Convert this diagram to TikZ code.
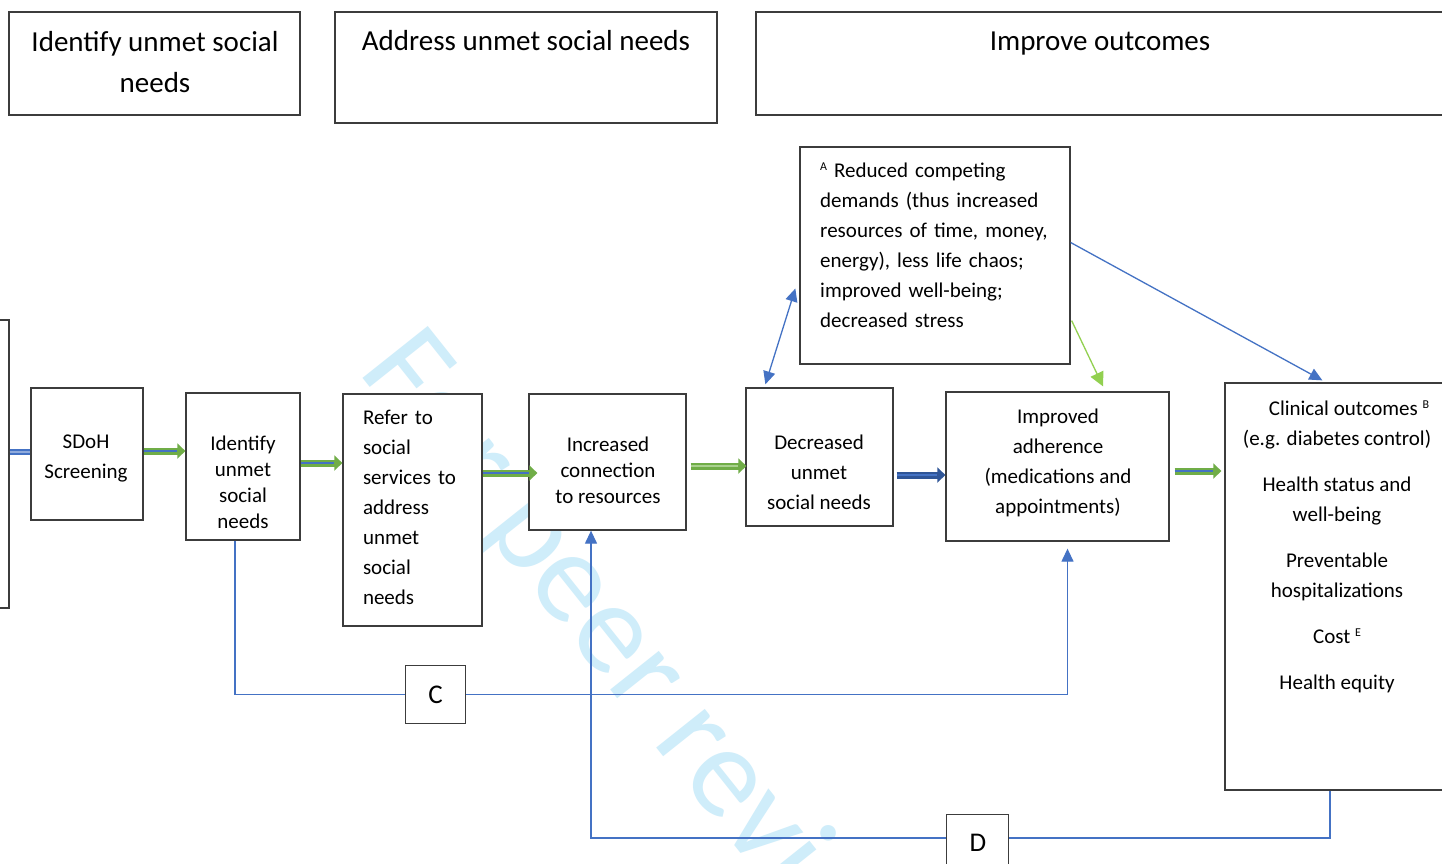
\documentclass[tikz,border=0pt]{standalone}
\usepackage{fontspec}
\setmainfont{Carlito}
\usetikzlibrary{arrows.meta,calc}
\definecolor{bl}{RGB}{68,114,196}
\definecolor{dbl}{RGB}{47,85,151}
\definecolor{lbl}{RGB}{143,170,220}
\definecolor{gr}{RGB}{112,173,71}
\definecolor{lgr}{RGB}{146,208,80}
\definecolor{pgr}{RGB}{169,209,142}
\definecolor{wm}{RGB}{207,237,250}
\definecolor{bx}{RGB}{60,60,60}
\newcommand\blkarrow[4]{%
  \draw[draw=#1,line width=7pt,-{Triangle[length=8pt,width=15pt]}] #3 -- #4;
  \draw[draw=#2,line width=2pt,shorten >=8pt] #3 -- #4;}
\begin{document}
\begin{tikzpicture}[x=1pt,y=-1pt,
  box/.style={draw=bx, line width=1.3pt, fill=white, inner sep=0pt, rectangle},
  txt/.style={inner sep=0pt, align=center, font=\fontsize{21}{30}\selectfont},
  head/.style={inner sep=0pt, align=center, font=\fontsize{29}{41}\selectfont},
  conn/.style={draw=bl, line width=1.3pt},
  tip/.style={-{Triangle[length=13pt,width=12pt]}},
  lab/.style={inner sep=0pt, font=\fontsize{27}{27}\selectfont}]
\clip (0,0) rectangle (1442,863);
\useasboundingbox (0,0) rectangle (1442,863);
\fill[white] (0,0) rectangle (1442,863);

% watermark
\node[rotate=-51.5, anchor=base west, inner sep=0pt, text=wm,
  font=\fontsize{130}{130}\selectfont] (wmk) at (357,371) {For peer review};

% headers
\node[box, minimum width=291pt, minimum height=103pt] (h1) at (154.5,63.5) {};
\node[box, minimum width=382pt, minimum height=111pt] (h2) at (526,67.5) {};
\node[box, minimum width=704pt, minimum height=103pt] (h3) at (1108,63.5) {};
\node[head] (h1t) at (155,62) {Identify unmet social\\needs};
\node[head, anchor=base] (h2t) at (526,50) {Address unmet social needs};
\node[head, anchor=base] (h3t) at (1100,50) {Improve outcomes};

% process boxes
\node[box, minimum width=40pt, minimum height=288pt] (left) at (-11,464) {};
\node[box, minimum width=112pt, minimum height=132pt] (sdoh) at (87,454) {};
\node[box, minimum width=114pt, minimum height=147pt] (ident) at (243,466.5) {};
\node[box, minimum width=139pt, minimum height=232pt] (refer) at (412.5,510) {};
\node[box, minimum width=157pt, minimum height=136pt] (incr) at (607.5,462) {};
\node[box, minimum width=147pt, minimum height=138pt] (dec) at (819.5,457) {};
\node[box, minimum width=223pt, minimum height=149pt] (imp) at (1057.5,466.5) {};
\node[box, minimum width=235pt, minimum height=407pt] (out) at (1342.5,586.5) {};
\node[box, minimum width=270pt, minimum height=217pt] (abox) at (935,255.5) {};
\node[box, minimum width=59.5pt, minimum height=57.5pt] (cb) at (435.5,694.5) {};
\node[box, minimum width=62pt, minimum height=62pt] (db) at (977.8,845.3) {};

% texts
\node[txt] (sdoht) at (86,458) {SDoH\\Screening};
\node[txt, font=\fontsize{21}{26}\selectfont] (identt) at (243,482) {Identify\\unmet\\social\\needs};
\node[txt, align=left, text width=99pt] (refert) at (412.5,507) {Refer to\\social\\services to\\address\\unmet\\social\\needs};
\node[txt, font=\fontsize{21}{26}\selectfont] (incrt) at (608,470) {Increased\\connection\\to resources};
\node[txt] (dect) at (819,472) {Decreased\\unmet\\social needs};
\node[txt] (impt) at (1058,463) {Improved\\adherence\\(medications and\\appointments)};
\node[txt, anchor=west, align=left, text width=245pt] (abt) at (820,245)
  {\raisebox{7pt}{\fontsize{12}{12}\selectfont A} Reduced competing\\demands (thus increased\\resources of time, money,\\energy), less life chaos;\\improved well-being;\\decreased stress};
\node[txt] (outt) at (1337,547)
  {\hspace*{24pt}Clinical outcomes \raisebox{7pt}{\fontsize{12}{12}\selectfont B}\\(e.g. diabetes control)\\[16pt]Health status and\\well-being\\[16pt]Preventable\\hospitalizations\\[16pt]Cost \raisebox{7pt}{\fontsize{12}{12}\selectfont E}\\[16pt]Health equity};
\node[lab] (cbt) at (cb) {C};
\node[lab] (dbt) at (977.8,843) {D};

% block arrows
\draw[draw=bl,line width=6pt] (left.east |- 0,452) -- (sdoh.west |- 0,452);
\draw[draw=lbl,line width=1.6pt] (left.east |- 0,452) -- (sdoh.west |- 0,452);
\blkarrow{gr}{bl}{(sdoh.east |- 0,451)}{(ident.west |- 0,451)}
\blkarrow{gr}{bl}{(ident.east |- 0,463)}{(refer.west |- 0,463)}
\blkarrow{gr}{bl}{(refer.east |- 0,473)}{($(incr.west |- 0,473)+(9,0)$)}
\blkarrow{gr}{pgr}{($(incr.east |- 0,466)+(4,0)$)}{($(dec.west |- 0,466)+(1,0)$)}
\blkarrow{dbl}{bl}{($(dec.east |- 0,475)+(3,0)$)}{(imp.west |- 0,475)}
\blkarrow{gr}{bl}{($(imp.east |- 0,471)+(5,0)$)}{($(out.west |- 0,471)+(-3,0)$)}

% thin connectors
\draw[conn, {Triangle[length=13pt,width=12pt]}-{Triangle[length=13pt,width=12pt]}]
  ($(abox.west)+(-4,33)$) -- ($(dec.north west)+(20,-3)$);
\draw[conn, tip] ($(abox.east)+(0,-13)$) -- ($(out.north west)+(98,-2)$);
\draw[draw=lgr, line width=1.3pt, -{Triangle[length=14pt,width=14pt]}]
  ($(abox.south east)+(1,-44)$) -- ($(imp.north)+(45.5,-5)$);
\draw[conn] ($(ident.south)+(-8,0)$) |- (cb.west);
\draw[conn, tip] (cb.east) -| ($(imp.south)+(10,7)$);
\draw[conn] ($(out.south)+(-12.5,0)$) |- (db.east |- 0,838);
\draw[conn, tip] (db.west |- 0,838) -| ($(incr.south)+(-16.5,0)$);
\end{tikzpicture}
\end{document}
